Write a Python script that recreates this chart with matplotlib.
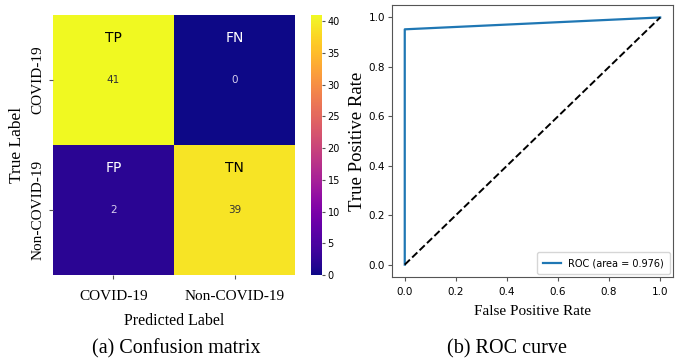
import numpy as np
import matplotlib.pyplot as plt
import seaborn as sns

# data
class_names = ["COVID-19", "Non-COVID-19"]
cm_values = [[41, 0],
             [2, 39]]
cm_tags = [["TP", "FN"],
           ["FP", "TN"]]
fpr = [0.0, 0.0, 1.0]
tpr = [0.0, 0.952, 1.0]
roc_auc = 0.976
cbar_ticks = [0, 5, 10, 15, 20, 25, 30, 35, 40]
roc_ticks = [0.0, 0.2, 0.4, 0.6, 0.8, 1.0]

# fonts
sans = ["DejaVu Sans"]
serif = ["Liberation Serif", "DejaVu Serif"]

fig = plt.figure(figsize=(6.81, 3.64), dpi=100)

# ----- confusion matrix -----
ax1 = fig.add_axes([0.0778, 0.2445, 0.3554, 0.7143])
cax = fig.add_axes([0.4567, 0.2445, 0.0162, 0.7143])
data = np.array(cm_values)
sns.heatmap(data, ax=ax1, cbar_ax=cax, cmap="plasma", vmin=0, vmax=41,
            annot=False, cbar=True)
for i in range(2):
    for j in range(2):
        v = data[i, j]
        light = v > 20
        col = "#333333" if light else "#d8d0ee"
        ax1.text(j + 0.5, i + 0.5, str(v), ha="center", va="center",
                 fontsize=7.5, color=col, family=sans)
        ax1.text(j + 0.5, i + 0.18, cm_tags[i][j], ha="center", va="center",
                 fontsize=10, color="black" if light else "white", family=sans)
ax1.set_xticks([0.5, 1.5])
ax1.set_yticks([0.5, 1.5])
ax1.set_xticklabels(class_names, fontsize=11, family=serif)
ax1.set_yticklabels(class_names, fontsize=11, family=serif, rotation=90, va="center")
ax1.tick_params(axis="x", length=3, color="#555555", pad=8)
ax1.tick_params(axis="y", length=3, color="#555555", pad=3)
ax1.set_xlabel("Predicted Label", fontsize=11.5, family=serif, labelpad=7)
ax1.set_ylabel("True Label", fontsize=12.5, family=serif, labelpad=5)
cax.set_yticks(cbar_ticks)
cax.tick_params(labelsize=7, length=2.5, color="#555555", pad=1.5)

# ----- ROC curve -----
ax2 = fig.add_axes([0.5756, 0.239, 0.4126, 0.747])
ax2.plot(fpr, tpr, color="#1f77b4", lw=1.6, label="ROC (area = %0.3f)" % roc_auc)
ax2.plot([0, 1], [0, 1], "k--", lw=1.4)
ax2.set_xticks(roc_ticks)
ax2.set_yticks(roc_ticks)
ax2.set_xticklabels(["%.1f" % t for t in roc_ticks], family=sans, fontsize=7.5)
ax2.set_yticklabels(["%.1f" % t for t in roc_ticks], family=sans, fontsize=7.5)
ax2.tick_params(axis="x", length=3, color="#555555", pad=4)
ax2.tick_params(axis="y", length=3, color="#555555", pad=2)
for s in ax2.spines.values():
    s.set_color("#555555")
ax2.set_xlabel("False Positive Rate", family=serif, fontsize=11, labelpad=6)
ax2.set_ylabel("True Positive Rate", family=serif, fontsize=13.5, labelpad=2)
ax2.legend(loc="lower right", prop={"family": sans, "size": 7},
           borderaxespad=0.3, handlelength=1.8, borderpad=0.6)

# captions
fig.text(0.259, 0.042, "(a) Confusion matrix", family=serif, fontsize=14.5, ha="center", va="center")
fig.text(0.745, 0.042, "(b) ROC curve", family=serif, fontsize=14.5, ha="center", va="center")

fig.savefig("out.png", dpi=100)
